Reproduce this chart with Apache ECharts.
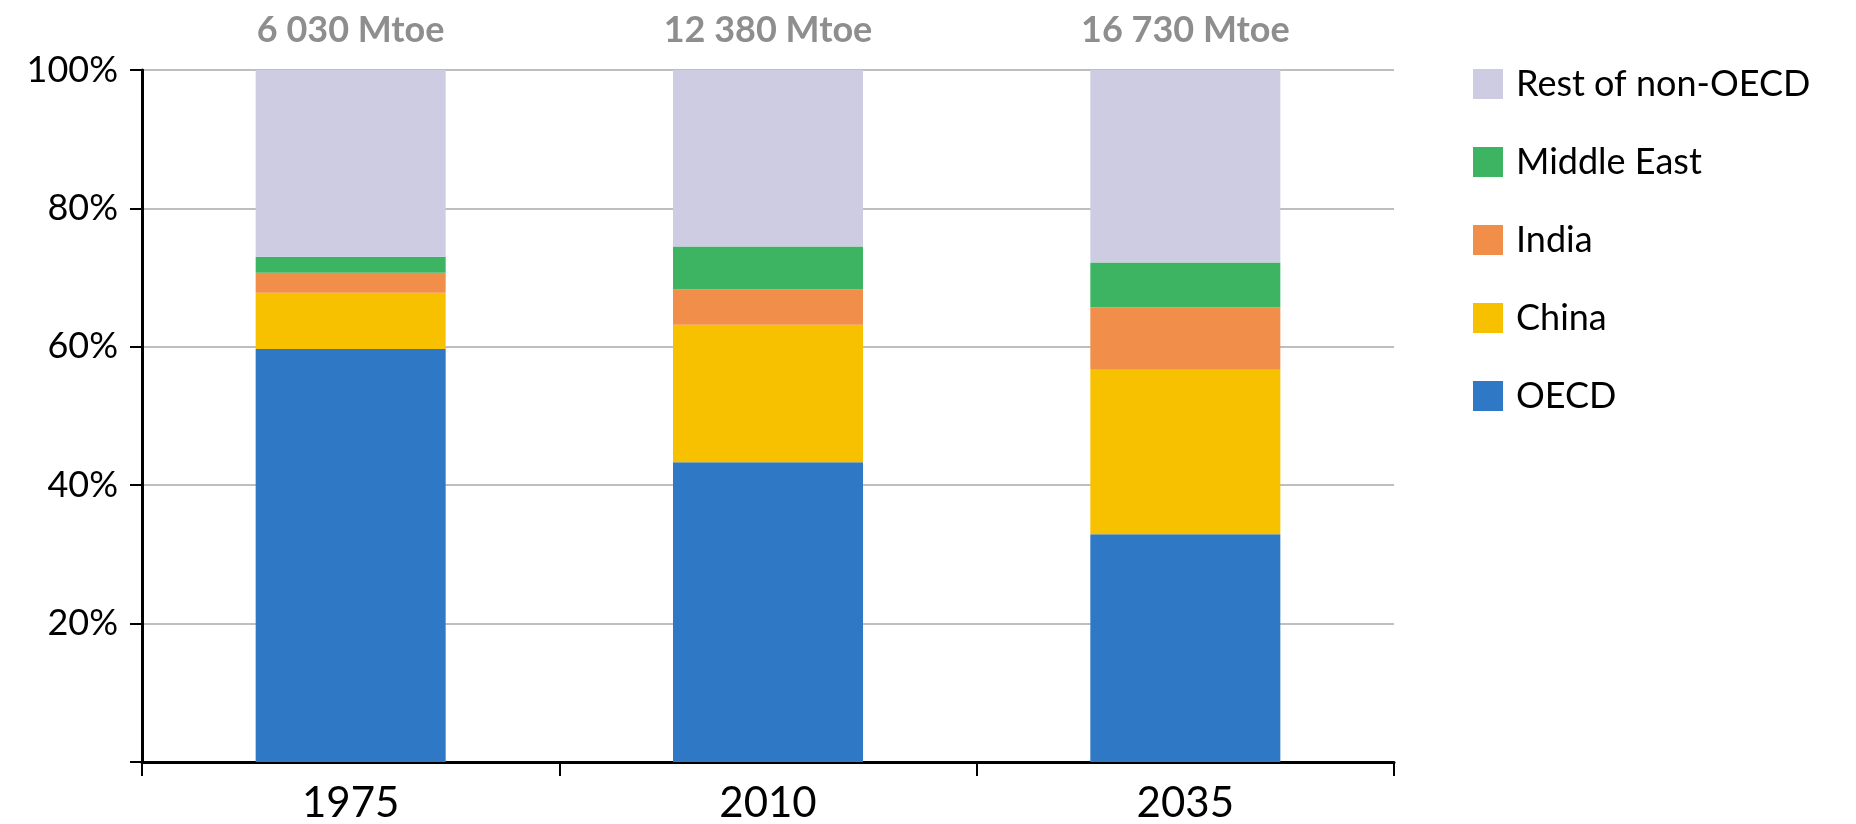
<!DOCTYPE html>
<html>
<head>
<meta charset="utf-8">
<script src="https://cdn.jsdelivr.net/npm/echarts@6/dist/echarts.min.js"></script>
<style>
html,body{margin:0;padding:0;background:#fff;}
#c{width:1856px;height:824px;}
</style>
</head>
<body>
<div id="c"></div>
<script>
const categories = ['1975', '2010', '2035'];
const totals = ['6 030 Mtoe', '12 380 Mtoe', '16 730 Mtoe'];
const oecd = [59.7, 43.3, 32.9];
const china = [8.1, 19.9, 23.8];
const india = [2.9, 5.1, 9.0];
const middleEast = [2.3, 6.2, 6.5];
const restNonOecd = [27.0, 25.5, 27.8];
const yTicks = [0, 20, 40, 60, 80, 100];

const FONT = 'Lato';
const chart = echarts.init(document.getElementById('c'));

function bar(name, data, color, extra) {
  return Object.assign({
    name: name, type: 'bar', stack: 'total', data: data, barWidth: 190,
    itemStyle: { color: color }, emphasis: { disabled: true }
  }, extra || {});
}

chart.setOption({
  animation: false,
  textStyle: { fontFamily: FONT },
  grid: { left: 142, right: 462, top: 70, bottom: 62, containLabel: false },
  legend: {
    orient: 'vertical', left: 1468, top: 61,
    itemWidth: 30, itemHeight: 30, itemGap: 42,
    icon: 'rect',
    data: ['Rest of non-OECD', 'Middle East', 'India', 'China', 'OECD'],
    textStyle: { fontSize: 36, color: '#000', fontFamily: FONT, padding: [0, 0, 0, 8] },
    selectedMode: false
  },
  xAxis: {
    type: 'category', data: categories,
    axisLine: { lineStyle: { color: '#000', width: 3 } },
    axisTick: { show: true, alignWithLabel: false, length: 14, lineStyle: { color: '#000', width: 2 } },
    axisLabel: { fontSize: 42, color: '#000', margin: 20, fontFamily: FONT }
  },
  yAxis: {
    type: 'value', min: yTicks[0], max: yTicks[yTicks.length - 1], interval: 20,
    axisLine: { show: true, lineStyle: { color: '#000', width: 3 } },
    axisTick: { show: true, length: 12, lineStyle: { color: '#000', width: 2 } },
    axisLabel: { fontSize: 36, color: '#000', margin: 24, fontFamily: FONT,
      formatter: v => v === 0 ? '' : v + '%' },
    splitLine: { lineStyle: { color: '#BEBEBE', width: 2 } }
  },
  series: [
    bar('OECD', oecd, '#2F78C6'),
    bar('China', china, '#F7C100'),
    bar('India', india, '#F08E4A'),
    bar('Middle East', middleEast, '#3DB462'),
    bar('Rest of non-OECD', restNonOecd, '#CDCCE2', {
      label: {
        show: true, position: 'top', distance: 22,
        formatter: p => totals[p.dataIndex],
        fontSize: 36, fontWeight: 'bold', color: '#8E8E8E', fontFamily: FONT
      }
    })
  ]
});
</script>
</body>
</html>
